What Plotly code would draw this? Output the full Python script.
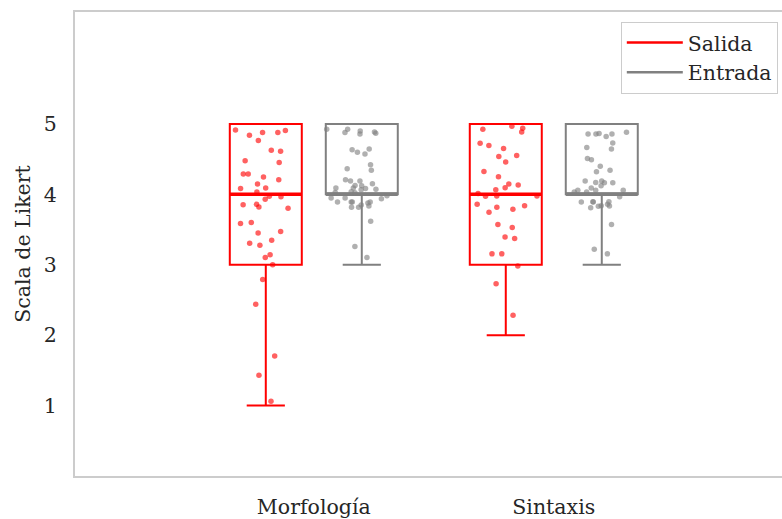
import plotly.graph_objects as go

categories = ["Morfología", "Sintaxis"]
series = ["Salida", "Entrada"]
colors = {"Salida": "#ff0000", "Entrada": "#808080"}
point_colors = {"Salida": "rgba(255,0,0,0.62)", "Entrada": "rgba(128,128,128,0.62)"}

# box statistics (Likert values)
stats = {
    ("Morfología", "Salida"): dict(q1=3, median=4, q3=5, lowerfence=1, upperfence=5),
    ("Morfología", "Entrada"): dict(q1=4, median=4, q3=5, lowerfence=3, upperfence=5),
    ("Sintaxis", "Salida"): dict(q1=3, median=4, q3=5, lowerfence=2, upperfence=5),
    ("Sintaxis", "Entrada"): dict(q1=4, median=4, q3=5, lowerfence=3, upperfence=5),
}

# individual (jittered) responses
morf_salida = [4.877, 4.906, 4.840, 4.915, 4.877, 4.764, 4.613, 4.627, 4.453, 4.476,
               4.288, 4.288, 4.208, 4.245, 4.146, 4.090, 4.085, 4.033, 3.967, 3.972,
               3.929, 3.858, 3.802, 3.821, 3.854, 3.599, 3.585, 3.453, 3.472, 3.278,
               3.307, 3.349, 3.142, 3.104, 3.000, 2.792, 2.440, 1.704, 1.430, 1.062]
morf_entrada = [4.925, 4.887, 4.877, 4.925, 4.868, 4.901, 4.858, 4.632, 4.599, 4.575,
                4.646, 4.420, 4.363, 4.344, 4.189, 4.208, 4.151, 4.090, 4.127, 4.189,
                4.123, 4.085, 4.090, 4.071, 4.028, 4.024, 4.066, 4.038, 3.981, 3.948,
                3.892, 3.892, 3.939, 3.892, 3.948, 3.835, 3.877, 3.816, 3.816, 3.849,
                3.892, 3.618, 3.259, 3.104]
sint_salida = [4.967, 4.887, 4.939, 4.925, 4.651, 4.693, 4.726, 4.538, 4.552, 4.458,
               4.325, 4.250, 4.132, 4.146, 4.066, 4.094, 4.014, 3.976, 3.976, 3.972,
               3.788, 3.840, 3.858, 3.816, 3.745, 3.571, 3.528, 3.396, 3.373, 3.156,
               3.156, 2.981, 2.731, 2.284]
sint_entrada = [4.858, 4.821, 4.882, 4.858, 4.863, 4.858, 4.646, 4.665, 4.731, 4.509,
                4.491, 4.344, 4.401, 4.321, 4.170, 4.165, 4.165, 4.189, 4.189, 4.123,
                4.090, 4.057, 4.057, 4.033, 4.033, 4.057, 3.967, 3.896, 3.835, 3.892,
                3.896, 3.830, 3.811, 3.840, 3.892, 3.858, 3.571, 3.222, 3.156]
points = {
    ("Morfología", "Salida"): morf_salida,
    ("Morfología", "Entrada"): morf_entrada,
    ("Sintaxis", "Salida"): sint_salida,
    ("Sintaxis", "Entrada"): sint_entrada,
}

y_ticks = [1, 2, 3, 4, 5]

FONT = "DejaVu Serif"
TEXT = "#262626"
FS = 20.5
BOX_W = 0.3
OFFSET = {"Salida": -0.2, "Entrada": 0.2}

fig = go.Figure()
for ci, cat in enumerate(categories):
    for s in series:
        pos = ci + OFFSET[s]
        st = stats[(cat, s)]
        # main box
        fig.add_trace(go.Box(
            x=[pos], q1=[st["q1"]], median=[st["median"]], q3=[st["q3"]],
            lowerfence=[st["lowerfence"]], upperfence=[st["upperfence"]],
            width=BOX_W, whiskerwidth=0.53, boxpoints=False,
            line=dict(color=colors[s], width=2), fillcolor="rgba(255,255,255,0)",
            showlegend=False, hoverinfo="skip"))
        # thicker median line
        fig.add_trace(go.Box(
            x=[pos], q1=[st["median"]], median=[st["median"]], q3=[st["median"]],
            lowerfence=[st["median"]], upperfence=[st["median"]],
            width=BOX_W, whiskerwidth=0, boxpoints=False,
            line=dict(color=colors[s], width=3.5), fillcolor="rgba(255,255,255,0)",
            showlegend=False, hoverinfo="skip"))
        # jittered points (box itself hidden)
        vals = points[(cat, s)]
        fig.add_trace(go.Box(
            x=[pos] * len(vals), y=vals, width=BOX_W,
            boxpoints="all", jitter=1.0, pointpos=0,
            marker=dict(color=point_colors[s], size=5.5, line=dict(width=0)),
            line=dict(width=0, color="rgba(0,0,0,0)"), fillcolor="rgba(0,0,0,0)",
            showlegend=False, hoverinfo="y"))

for s in series:
    fig.add_trace(go.Scatter(x=[None], y=[None], mode="lines", name=s,
                             line=dict(color=colors[s], width=2.5)))

fig.update_layout(
    width=782, height=519,
    margin=dict(l=75, r=0, t=12, b=41),
    paper_bgcolor="white", plot_bgcolor="white",
    boxmode="overlay",
    font=dict(family=FONT, size=FS, color=TEXT),
    legend=dict(x=0.772, xanchor="left", y=0.979, yanchor="top",
                bordercolor="#cccccc", borderwidth=1, bgcolor="white",
                font=dict(size=FS, color=TEXT), tracegroupgap=0, itemwidth=56),
    xaxis=dict(range=[-0.995, 1.951], tickvals=list(range(len(categories))),
               ticktext=categories, showgrid=False, zeroline=False,
               showline=True, linecolor="#cccccc", linewidth=2, mirror=True,
               ticks="", ticklabelstandoff=11, tickfont=dict(size=FS)),
    yaxis=dict(range=[0, 6.59], tickvals=y_ticks, showgrid=False, zeroline=False,
               showline=True, linecolor="#cccccc", linewidth=2,
               ticks="", ticklabelstandoff=12, tickfont=dict(size=FS),
               title=dict(text="Scala de Likert", font=dict(size=FS), standoff=8)),
)

fig.write_html("out.html")
